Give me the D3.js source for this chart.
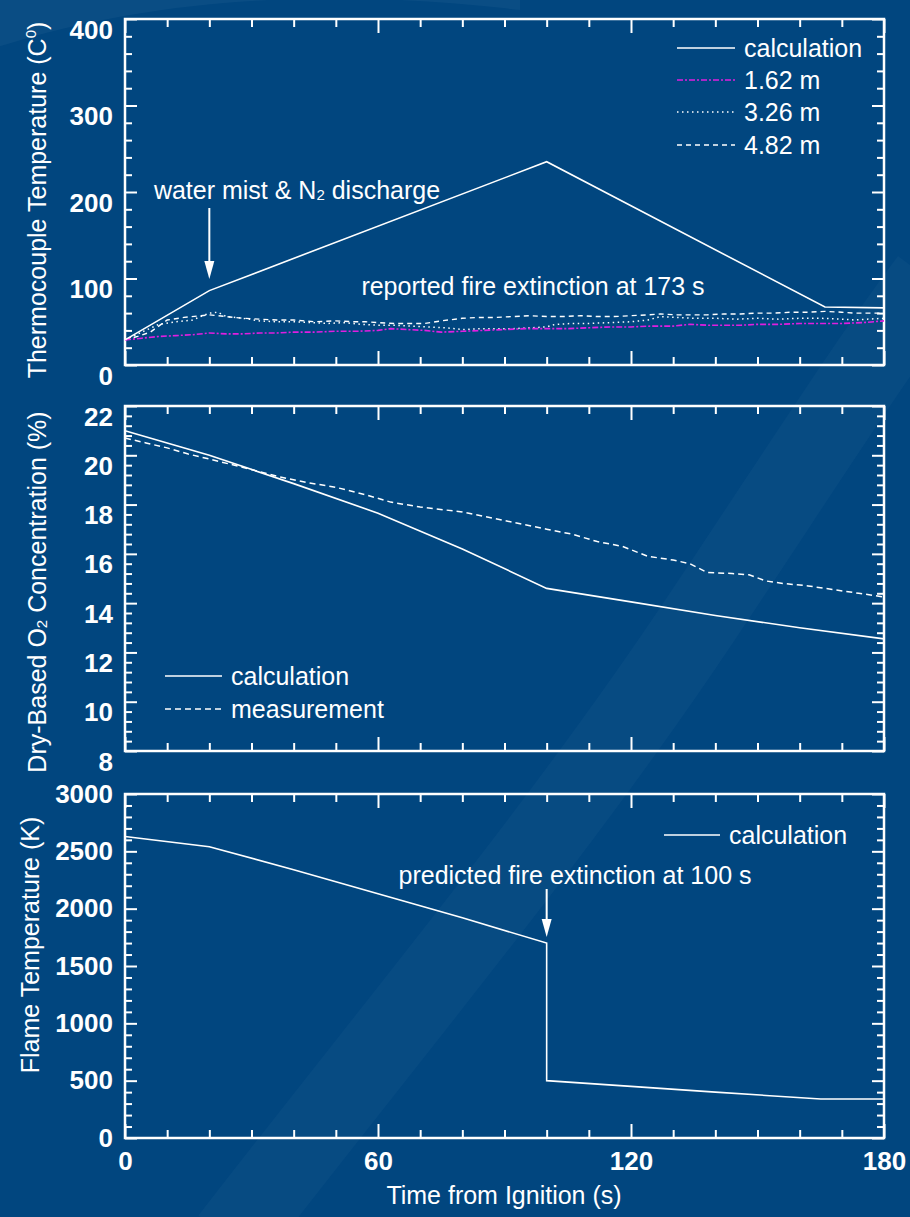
<!DOCTYPE html>
<html><head><meta charset="utf-8">
<script src="https://cdn.jsdelivr.net/npm/d3@7"></script>
<style>
html,body{margin:0;padding:0;background:#01467f;}
svg{display:block;}
text{font-family:"Liberation Sans",Arial,sans-serif;fill:#fff;}
</style></head>
<body>
<svg id="c" width="910" height="1217"></svg>
<script>
// ---------- data ----------
const xTickLabels = [0, 60, 120, 180];

// Panel 1: thermocouple temperature (C)
const calc1T = [0, 20, 100, 166, 180];
const calc1V = [29, 86, 235, 67, 66];
const m162T = [0,4,8,12,16,20,24,28,32,36,40,45,50,55,60,63,67,71,75,80,85,90,95,100,105,110,115,120,125,130,134,138,142,146,150,155,160,165,170,175,180];
const m162V = [29,31,33,34,35,37,36,36,37,37,38,38,39,39,40,42,41,40,38,39,40,41,42,42,42,43,44,44,45,45,47,46,46,46,47,47,48,48,48,49,51];
const m326T = [0,4,8,12,16,20,22,24,28,32,36,40,44,48,52,56,60,64,68,72,76,80,84,88,92,96,100,102,106,110,115,120,124,127,131,135,140,145,150,155,160,165,170,173,176,180];
const m326V = [29,38,47,50,52,60,61,56,54,51,50,50,49,48,49,47,46,46,45,44,43,41,42,42,42,43,44,47,48,48,49,50,52,56,55,54,54,53,54,53,54,54,53,52,53,54];
const m482T = [0,3,6,10,14,18,20,24,28,32,36,40,45,50,54,57,60,64,68,71,75,80,84,88,92,96,100,104,108,112,116,120,124,127,131,135,138,142,146,150,154,158,162,166,170,173,176,180];
const m482V = [29,33,38,52,55,57,58,56,54,53,52,52,50,51,50,50,49,48,48,48,51,54,55,55,56,57,56,56,57,56,56,57,58,59,58,58,58,59,59,60,60,61,61,62,61,60,60,60];
const p1Ticks = [0, 100, 200, 300, 400];

// Panel 2: O2 concentration (%)
const calc2T = [0,20,40,60,80,100,120,140,160,180];
const calc2V = [21.0,20.0,18.85,17.65,16.2,14.6,14.05,13.5,13.0,12.55];
const meas2T = [0,5,10,15,20,27,36,43,50,57,63,70,80,90,100,106,112,118,124,130,134,138,144,148,152,156,162,168,174,180];
const meas2V = [20.7,20.5,20.3,20.05,19.85,19.55,19.15,18.9,18.7,18.4,18.1,17.9,17.7,17.35,17.0,16.8,16.5,16.3,15.9,15.75,15.6,15.25,15.2,15.15,14.9,14.8,14.7,14.55,14.4,14.25];
const p2Ticks = [8, 10, 12, 14, 16, 18, 20, 22];

// Panel 3: flame temperature (K)
const calc3T = [0,20,40,60,80,100,100,120,140,165,180];
const calc3V = [2630,2540,2340,2130,1920,1700,500,450,400,340,340];
const p3Ticks = [0, 500, 1000, 1500, 2000, 2500, 3000];

// ---------- drawing ----------
const svg = d3.select("#c");
const W = 910, H = 1217;
const X0 = 125, X1 = 884;

// background decoration
svg.append("rect").attr("width", W).attr("height", H).attr("fill", "#01467f");
svg.append("path")
  .attr("d", "M-40,60 C150,-10 350,-10 520,10 L520,-20 L-40,-20 Z")
  .attr("fill", "#ffffff").attr("opacity", 0.04);
svg.append("path")
  .attr("d", "M230,1240 C400,1020 560,830 700,620 C800,470 870,360 930,280")
  .attr("fill", "none").attr("stroke", "#ffffff").attr("stroke-width", 80).attr("opacity", 0.028);

const x = d3.scaleLinear().domain([0, 180]).range([X0, X1]);

const panels = [
  {domain: [0, 400], range: [365, 19], major: p1Ticks, minorStep: 20, dy: 10},
  {domain: [8, 22], range: [751, 406], major: p2Ticks, minorStep: 0.4, dy: 10},
  {domain: [0, 3000], range: [1138, 794], major: p3Ticks, minorStep: 100, dy: -1}
];

const xMajor = [0, 60, 120, 180];
const xMinor = d3.range(0, 181, 10).filter(v => v % 60 !== 0);

panels.forEach((p, i) => {
  const y = d3.scaleLinear().domain(p.domain).range(p.range);
  p.y = y;
  const g = svg.append("g");
  const n = Math.round((p.domain[1] - p.domain[0]) / p.minorStep);
  const yMinor = d3.range(0, n + 1).map(k => p.domain[0] + k * p.minorStep)
    .filter(v => !p.major.some(m => Math.abs(m - v) < 1e-6));

  g.append("g").attr("transform", `translate(${X0},0)`)
    .call(d3.axisLeft(y).tickValues(yMinor).tickSize(-7).tickFormat(""));
  g.append("g").attr("transform", `translate(${X1},0)`)
    .call(d3.axisRight(y).tickValues(yMinor).tickSize(-7).tickFormat(""));
  const left = g.append("g").attr("transform", `translate(${X0},0)`)
    .call(d3.axisLeft(y).tickValues(p.major).tickSize(-12).tickPadding(12).tickFormat(d3.format("d")));
  left.selectAll("text").attr("dy", null).attr("y", p.dy).attr("dominant-baseline", "central")
    .style("font-size", "26px").style("font-weight", "bold").style("font-family", "'Liberation Sans',Arial,sans-serif").attr("fill", "#fff");
  g.append("g").attr("transform", `translate(${X1},0)`)
    .call(d3.axisRight(y).tickValues(p.major).tickSize(-12).tickFormat(""));
  const yb = p.range[0], yt = p.range[1];
  g.append("g").attr("transform", `translate(0,${yb})`)
    .call(d3.axisBottom(x).tickValues(xMinor).tickSize(-8).tickFormat(""));
  g.append("g").attr("transform", `translate(0,${yt})`)
    .call(d3.axisTop(x).tickValues(xMinor).tickSize(-8).tickFormat(""));
  const bot = g.append("g").attr("transform", `translate(0,${yb})`)
    .call(d3.axisBottom(x).tickValues(xMajor).tickSize(-14).tickPadding(14)
      .tickFormat(i === 2 ? d3.format("d") : ""));
  g.append("g").attr("transform", `translate(0,${yt})`)
    .call(d3.axisTop(x).tickValues(xMajor).tickSize(-14).tickFormat(""));
  bot.selectAll("text").style("font-size", "26px").style("font-weight", "bold")
    .style("font-family", "'Liberation Sans',Arial,sans-serif").attr("fill", "#fff");

  g.selectAll(".domain").remove();
  g.selectAll(".tick line").attr("stroke", "#fff").attr("stroke-width", 2);
  g.append("rect").attr("x", X0).attr("y", yt).attr("width", X1 - X0).attr("height", yb - yt)
    .attr("fill", "none").attr("stroke", "#fff").attr("stroke-width", 2.5);
});

const [P1, P2, P3] = panels;

function drawLine(T, V, y, stroke, dash, w) {
  const data = T.map((t, k) => [t, V[k]]);
  svg.append("path").datum(data)
    .attr("d", d3.line().x(d => x(d[0])).y(d => y(d[1])))
    .attr("fill", "none").attr("stroke", stroke).attr("stroke-width", w || 1.6)
    .attr("stroke-dasharray", dash || null);
}

drawLine(m482T, m482V, P1.y, "#fff", "5,4", 1.4);
drawLine(m326T, m326V, P1.y, "#fff", "1.5,3.5", 1.5);
drawLine(m162T, m162V, P1.y, "#e01ee0", "6,2,2,2", 1.6);
drawLine(calc1T, calc1V, P1.y, "#fff", null, 1.6);

drawLine(meas2T, meas2V, P2.y, "#fff", "6,4", 1.5);
drawLine(calc2T, calc2V, P2.y, "#fff", null, 1.6);

drawLine(calc3T, calc3V, P3.y, "#fff", null, 1.6);

function legendItem(x1, x2, yy, label, stroke, dash) {
  svg.append("line").attr("x1", x1).attr("x2", x2).attr("y1", yy).attr("y2", yy)
    .attr("stroke", stroke).attr("stroke-width", 1.6).attr("stroke-dasharray", dash || null);
  svg.append("text").attr("x", x2 + 9).attr("y", yy).attr("dominant-baseline", "central")
    .style("font-size", "25px").text(label);
}
legendItem(677, 735, 48, "calculation", "#fff", null);
legendItem(677, 735, 80, "1.62 m", "#e01ee0", "6,2,2,2");
legendItem(677, 735, 112, "3.26 m", "#fff", "1.5,3.5");
legendItem(677, 735, 145, "4.82 m", "#fff", "5,4");

legendItem(165, 222, 676, "calculation", "#fff", null);
legendItem(165, 222, 709, "measurement", "#fff", "6,4");

legendItem(664, 720, 835, "calculation", "#fff", null);

const wm = svg.append("text").attr("x", 297).attr("y", 190).attr("text-anchor", "middle")
  .attr("dominant-baseline", "central").style("font-size", "25px");
wm.append("tspan").text("water mist & N");
wm.append("tspan").attr("baseline-shift", "-30%").style("font-size", "15px").text("2");
wm.append("tspan").text(" discharge");

function arrow(xx, y1, y2) {
  svg.append("line").attr("x1", xx).attr("x2", xx).attr("y1", y1).attr("y2", y2 - 14)
    .attr("stroke", "#fff").attr("stroke-width", 2);
  svg.append("path").attr("d", `M${xx - 5},${y2 - 18} L${xx + 5},${y2 - 18} L${xx},${y2} Z`).attr("fill", "#fff");
}
arrow(x(20), 208, 279);

svg.append("text").attr("x", 533).attr("y", 286).attr("text-anchor", "middle")
  .attr("dominant-baseline", "central").style("font-size", "25px")
  .text("reported fire extinction at 173 s");

svg.append("text").attr("x", 575).attr("y", 875).attr("text-anchor", "middle")
  .attr("dominant-baseline", "central").style("font-size", "25px")
  .text("predicted fire extinction at 100 s");
arrow(x(100), 889, 937);

function yTitle(cx, cy, parts) {
  const t = svg.append("text").attr("transform", `translate(${cx},${cy}) rotate(-90)`)
    .attr("text-anchor", "middle").attr("dominant-baseline", "central").style("font-size", "25px");
  parts.forEach(p => {
    const s = t.append("tspan").text(p.t);
    if (p.sup) s.attr("baseline-shift", "45%").style("font-size", "15px");
    if (p.sub) s.attr("baseline-shift", "-30%").style("font-size", "15px");
  });
}
yTitle(37, 200, [{t: "Thermocouple Temperature (C"}, {t: "0", sup: true}, {t: ")"}]);
yTitle(37, 592, [{t: "Dry-Based O"}, {t: "2", sub: true}, {t: " Concentration (%)"}]);
yTitle(30, 945, [{t: "Flame Temperature (K)"}]);

svg.append("text").attr("x", 504).attr("y", 1195).attr("text-anchor", "middle")
  .attr("dominant-baseline", "central").style("font-size", "25px").text("Time from Ignition (s)");
</script>
</body></html>
